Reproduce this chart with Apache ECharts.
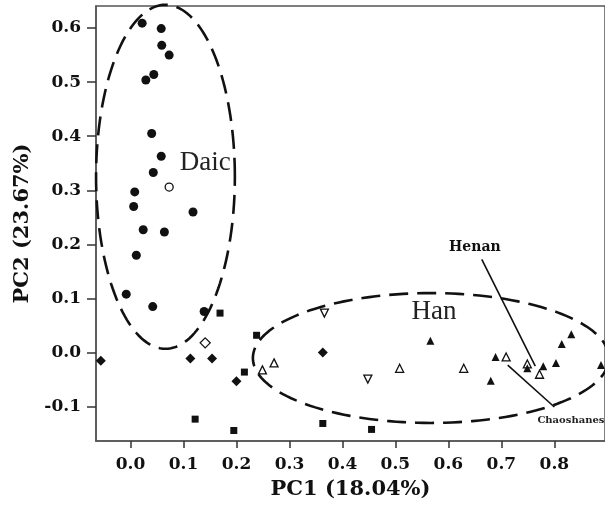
<!DOCTYPE html>
<html>
<head>
<meta charset="utf-8">
<script src="https://cdn.jsdelivr.net/npm/echarts@6/dist/echarts.min.js"></script>
<style>
html,body{margin:0;padding:0;background:#fff;}
#pca{width:605px;height:516px;}
</style>
</head>
<body>
<div id="pca"></div>
<script>
// PC1 / PC2 scores
var daicFilled = [
    [0.022,0.609],[0.058,0.599],[0.059,0.568],[0.073,0.550],[0.044,0.514],[0.029,0.504],
    [0.040,0.405],[0.058,0.363],[0.043,0.333],[0.008,0.297],[0.006,0.270],[0.118,0.260],
    [0.024,0.227],[0.064,0.223],[0.011,0.180],[-0.008,0.108],[0.042,0.085],[0.139,0.076]
];
var daicOpen = [[0.073,0.306]];
var squares = [[0.169,0.073],[0.238,0.032],[0.215,-0.036],[0.122,-0.123],[0.195,-0.144],[0.363,-0.131],[0.455,-0.142]];
var diamonds = [[-0.056,-0.015],[0.113,-0.011],[0.154,-0.011],[0.200,-0.053],[0.363,0.000]];
var openDiamonds = [[0.141,0.018]];
var openTriangles = [[0.249,-0.032],[0.271,-0.019],[0.508,-0.029],[0.629,-0.029],[0.709,-0.008],[0.749,-0.021],[0.772,-0.040]];
var openDownTriangles = [[0.366,0.073],[0.448,-0.049]];
var filledTriangles = [[0.566,0.022],[0.689,-0.008],[0.680,-0.052],[0.749,-0.029],[0.779,-0.025],[0.803,-0.019],[0.814,0.016],[0.832,0.034],[0.888,-0.023]];

// group ellipses: centre x, centre y, radius x, radius y
var ellipses = [[0.066,0.325,0.131,0.318],[0.567,-0.010,0.336,0.120]];

var xTicks = [0,0.1,0.2,0.3,0.4,0.5,0.6,0.7,0.8];
var yTicks = [-0.1,0,0.1,0.2,0.3,0.4,0.5,0.6];

var groupLabels = [
    {text:'Daic', at:[0.141,0.350]},
    {text:'Han', at:[0.573,0.0756]}
];
var henanArrow = [[0.663,0.1725],[0.764,-0.025]];
var chaoArrow = [[0.800,-0.1006],[0.712,-0.023]];

var serif = 'DejaVu Serif';
var ink = '#111';

function openStyle(){
    return {color:'#fff', borderColor:ink, borderWidth:1.3, opacity:1};
}
function solidStyle(){
    return {color:ink, opacity:1};
}

var option = {
    backgroundColor:'#fff',
    animation:false,
    grid:{left:96, top:6, right:-3, bottom:75, show:true, borderColor:'#555', borderWidth:1.5},
    xAxis:{
        type:'value', min:-0.0651, max:0.8956,
        name:'PC1 (18.04%)', nameLocation:'middle', nameGap:38,
        nameTextStyle:{fontFamily:serif, fontWeight:'bold', fontSize:21, color:ink},
        splitLine:{show:false},
        axisLine:{show:true, onZero:false, lineStyle:{color:'#555', width:1.5}},
        axisTick:{show:true, length:7, customValues:xTicks, lineStyle:{color:'#333', width:1.5}},
        axisLabel:{customValues:xTicks, margin:15, fontFamily:serif, fontWeight:'bold', fontSize:17, color:ink,
            formatter:function(v){return v.toFixed(1);}}
    },
    yAxis:{
        type:'value', min:-0.1634, max:0.6407,
        name:'PC2 (23.67%)', nameLocation:'middle', nameGap:62,
        nameTextStyle:{fontFamily:serif, fontWeight:'bold', fontSize:21, color:ink},
        splitLine:{show:false},
        axisLine:{show:true, onZero:false, lineStyle:{color:'#555', width:1.5}},
        axisTick:{show:true, length:9, customValues:yTicks, lineStyle:{color:'#333', width:1.5}},
        axisLabel:{customValues:yTicks, margin:15, fontFamily:serif, fontWeight:'bold', fontSize:17, color:ink,
            formatter:function(v){return v.toFixed(1);}}
    },
    series:[
        {type:'scatter', data:daicFilled, symbol:'circle', symbolSize:9, itemStyle:solidStyle()},
        {type:'scatter', data:daicOpen, symbol:'circle', symbolSize:8, itemStyle:openStyle()},
        {type:'scatter', data:squares, symbol:'rect', symbolSize:7, itemStyle:solidStyle()},
        {type:'scatter', data:diamonds, symbol:'diamond', symbolSize:10, itemStyle:solidStyle()},
        {type:'scatter', data:openDiamonds, symbol:'diamond', symbolSize:10, itemStyle:openStyle()},
        {type:'scatter', data:openTriangles, symbol:'triangle', symbolSize:8, itemStyle:openStyle()},
        {type:'scatter', data:openDownTriangles, symbol:'triangle', symbolRotate:180, symbolSize:8, itemStyle:openStyle()},
        {type:'scatter', data:filledTriangles, symbol:'triangle', symbolSize:8, itemStyle:solidStyle(),
            markLine:{
                silent:true, symbol:['none','arrow'], symbolSize:[0,8],
                label:{show:false},
                lineStyle:{color:ink, width:1.6, type:'solid', opacity:1},
                data:[
                    [{coord:henanArrow[0]},{coord:henanArrow[1]}],
                    [{coord:chaoArrow[0]},{coord:chaoArrow[1]}]
                ]
            }
        },
        {
            type:'custom', data:ellipses, encode:{x:0, y:1}, silent:true, z:5,
            renderItem:function(params, api){
                var cx = api.value(0), cy = api.value(1), rx = api.value(2), ry = api.value(3);
                var pts = [];
                for(var i = 0; i <= 160; i++){
                    var t = Math.PI * 2 * i / 160;
                    pts.push(api.coord([cx + rx * Math.cos(t), cy + ry * Math.sin(t)]));
                }
                return {
                    type:'polyline',
                    shape:{points:pts},
                    style:{fill:null, stroke:ink, lineWidth:2.6, lineDash:[19,9]}
                };
            }
        }
    ]
};

var chart = echarts.init(document.getElementById('pca'));
chart.setOption(option);

// free-floating labels placed in data coordinates
var graphics = [];
groupLabels.forEach(function(g){
    var p = chart.convertToPixel({gridIndex:0}, g.at);
    graphics.push({type:'text', x:p[0], y:p[1], z:10,
        style:{text:g.text, font:'27px "Liberation Serif"', fill:'#222', textAlign:'center', textVerticalAlign:'middle'}});
});
var hp = chart.convertToPixel({gridIndex:0}, [0.650,0.195]);
graphics.push({type:'text', x:hp[0], y:hp[1], z:10,
    style:{text:'Henan', font:'bold 14px "DejaVu Serif"', fill:ink, textAlign:'center', textVerticalAlign:'middle'}});
var cp = chart.convertToPixel({gridIndex:0}, [0.768,-0.1246]);
graphics.push({type:'text', x:cp[0], y:cp[1], z:10,
    style:{text:'Chaoshanese', font:'bold 10px "DejaVu Serif"', fill:'#222', textAlign:'left', textVerticalAlign:'middle'}});
chart.setOption({graphic:graphics});
</script>
</body>
</html>
